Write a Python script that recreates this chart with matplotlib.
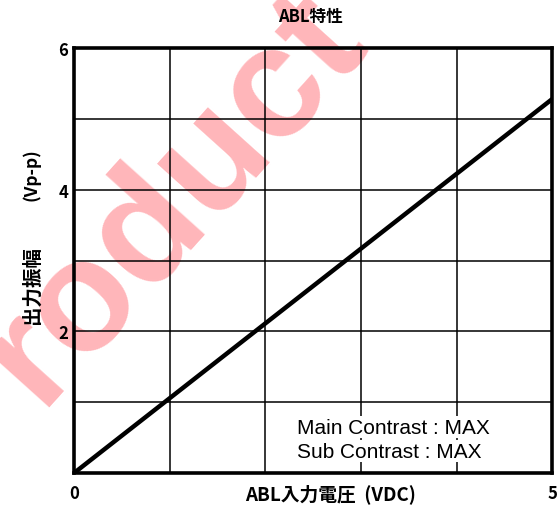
import matplotlib.pyplot as plt

plt.rcParams['font.family'] = ['Noto Sans CJK JP', 'DejaVu Sans']

# ABL input voltage (VDC) vs output amplitude (Vp-p)
abl_in = [0, 5]
out_amp = [0, 5.28]

x_ticks = [0, 5]
y_ticks = [2, 4, 6]
notes = ["Main Contrast : MAX", "Sub Contrast : MAX"]

fig = plt.figure(figsize=(5.6, 5.06), dpi=100)
ax = fig.add_axes([0.132, 0.063, 0.854, 0.840])
ax.patch.set_facecolor('none')

ax.set_xlim(0, 5)
ax.set_ylim(0, 6)

# grid every 1 unit
for gx in range(1, 5):
    ax.axvline(gx, color='black', lw=1.1, zorder=1)
for gy in range(1, 6):
    ax.axhline(gy, color='black', lw=1.1, zorder=1)

ax.plot(abl_in, out_amp, color='black', lw=3.2, solid_capstyle='butt', zorder=3)

for s in ax.spines.values():
    s.set_linewidth(2.6)

ax.set_xticks(x_ticks)
ax.set_yticks(y_ticks)
ax.set_xticklabels([str(v) for v in x_ticks], fontsize=12, fontweight='bold')
ax.set_yticklabels([str(v) for v in y_ticks], fontsize=12, fontweight='bold')
ax.tick_params(axis='y', length=0, pad=4)
ax.tick_params(axis='x', length=0, pad=8)

fig.text(0.555, 0.966, "ABL特性", fontsize=12, fontweight='bold', ha='center', va='center')
fig.text(0.590, 0.024, "ABL入力電圧  (VDC)", fontsize=13.5, fontweight='bold',
         ha='center', va='center')
fig.text(0.057, 0.437, "出力振幅", fontsize=14, fontweight='bold', rotation=90,
         ha='center', va='center')
fig.text(0.055, 0.654, "(Vp-p)", fontsize=12.5, fontweight='bold', rotation=90,
         ha='center', va='center')

for i, note in enumerate(notes):
    ax.text(2.33, 0.65 - i * 0.34, note, fontsize=15, va='center', ha='left',
            family='Liberation Sans', zorder=4,
            bbox=dict(facecolor='white', edgecolor='none', pad=1.0))

# watermark, drawn beneath the axes content
fig.text(0.31, 0.61, "roduct", fontsize=114, fontweight='bold', color='#ffb6ba',
         rotation=48, ha='center', va='center', zorder=-1,
         family='Liberation Sans')

fig.savefig("out.png", dpi=100)
